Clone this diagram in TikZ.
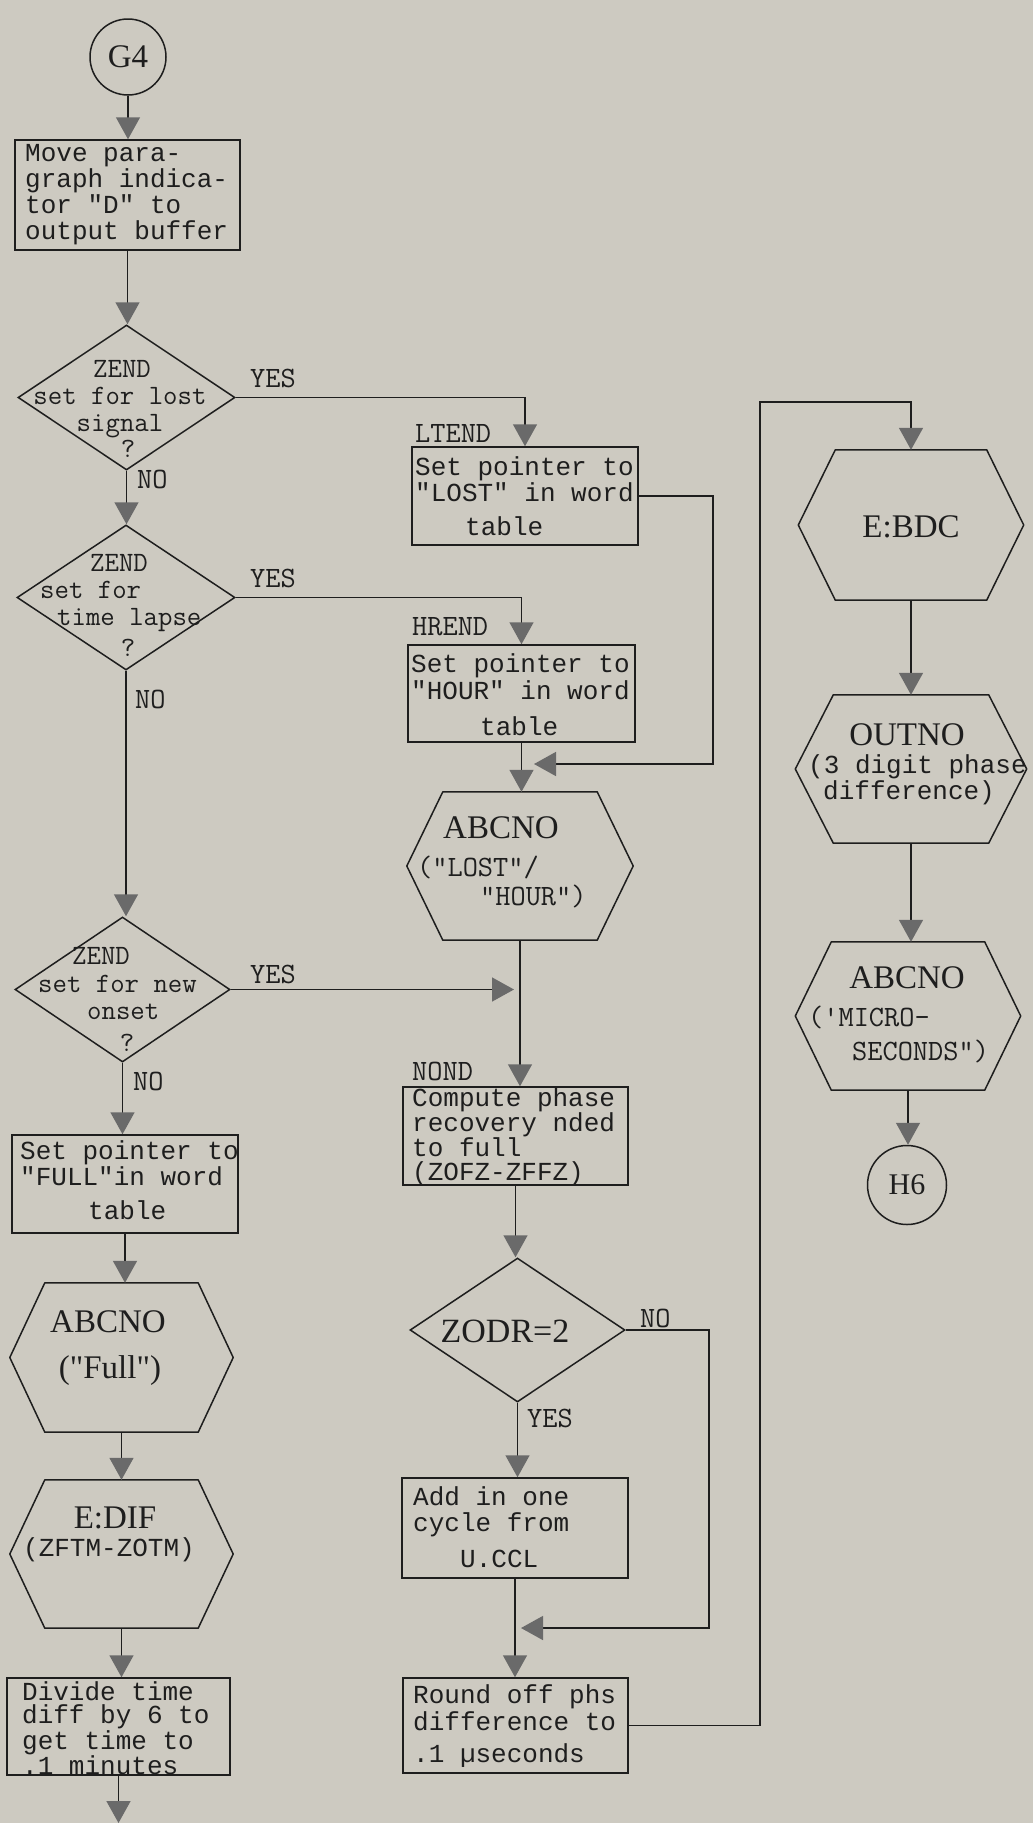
\documentclass[tikz,border=0pt]{standalone}
\usepackage{fontspec}
\usetikzlibrary{shapes.geometric,arrows.meta}
\newfontfamily\lmonofam{Liberation Mono}
\newfontfamily\lseriffam{Liberation Serif}
\definecolor{bgc}{HTML}{CDCAC1}
\definecolor{ink}{HTML}{1E1E1E}
\definecolor{ag}{HTML}{6A6A6A}
\newcommand\fBox{\lmonofam\fontsize{26}{26}\selectfont}
\newcommand\fLab{\ttfamily\fontsize{29.5}{29.5}\selectfont}
\newcommand\fDia{\ttfamily\fontsize{28}{28}\selectfont}
\newcommand\fSer{\lseriffam\fontsize{33}{33}\selectfont}
\newcommand\drawhex[2]{\draw[draw=ink,line width=1.5pt,line join=round] (#1.west) -- ([xshift=#2pt]#1.north west) -- ([xshift=-#2pt]#1.north east) -- (#1.east) -- ([xshift=-#2pt]#1.south east) -- ([xshift=#2pt]#1.south west) -- cycle;}
\begin{document}
\begin{tikzpicture}[x=1pt,y=-1pt,
 arr/.style={draw=ink,line width=1.5pt,-{Triangle[width=24pt,length=22pt,fill=ag,color=ag]}},
 boxn/.style={draw=ink,line width=1.5pt,rectangle,inner sep=0pt},
 dian/.style={draw=ink,line width=1.5pt,diamond,inner sep=0pt},
 hexn/.style={rectangle,inner sep=0pt},
 circn/.style={draw=ink,line width=1.5pt,circle,inner sep=0pt,font=\fSer,text=ink},
 btxt/.style={font=\fBox,text=ink,align=left,inner sep=0pt,anchor=west},
 lab/.style={font=\fLab,text=ink,inner sep=0pt,anchor=base west},
 dtx/.style={font=\fDia,text=ink,inner sep=0pt,anchor=base west},
 dtxc/.style={font=\fDia,text=ink,inner sep=0pt,anchor=base},
 sert/.style={font=\fSer,text=ink,inner sep=0pt,anchor=base},
 sertl/.style={font=\fSer,text=ink,inner sep=0pt,anchor=base west},
 mon/.style={font=\fBox,text=ink,inner sep=0pt,anchor=base west},
 monc/.style={font=\fBox,text=ink,inner sep=0pt,anchor=base}]
\fill[bgc] (0,0) rectangle (1033,1823);
\useasboundingbox (0,0) rectangle (1033,1823);

% ---------- left column ----------
\node[circn,minimum size=76pt] (G4) at (128,57) {G4};
\node[boxn,minimum width=225pt,minimum height=110pt] (b1) at (127.5,195) {};
\node[btxt] (b1t) at (25,195) {Move para-\\graph indica-\\tor "D" to\\output buffer};

\node[dian,minimum width=217pt,minimum height=145pt] (d1) at (126.5,397.5) {};
\node[dtxc] (d1a) at (122,377) {ZEND};
\node[dtxc] (d1b) at (120,404) {set for lost};
\node[dtxc] (d1c) at (120,431) {signal};
\node[dtxc] (d1d) at (128,457) {?};

\node[dian,minimum width=218pt,minimum height=145pt] (d2) at (126,597.5) {};
\node[dtx] (d2a) at (90,571) {ZEND};
\node[dtx] (d2b) at (40,598) {set for};
\node[dtx] (d2c) at (57,625) {time lapse};
\node[dtxc] (d2d) at (128,656) {?};

\node[dian,minimum width=215pt,minimum height=145pt] (d3) at (122.5,989.5) {};
\node[dtx] (d3a) at (72,964) {ZEND};
\node[dtx] (d3b) at (38,992) {set for new};
\node[dtx] (d3c) at (87,1019) {onset};
\node[dtxc] (d3d) at (127,1051) {?};

\node[boxn,minimum width=226pt,minimum height=98pt] (fb) at (125,1184) {};
\node[btxt] (fbt) at (20,1180) {Set pointer to\\"FULL"in word\\[8pt]\hspace*{68pt}table};

\node[hexn,minimum width=223pt,minimum height=149pt] (hF) at (121.5,1357.5) {};
\node[sert] (hFa) at (108,1332) {ABCNO};
\node[sert] (hFb) at (110,1378) {("Full")};

\node[hexn,minimum width=223pt,minimum height=148pt] (hE) at (121.5,1554) {};
\node[sert] (hEa) at (115,1528) {E:DIF};
\node[monc] (hEb) at (109,1556) {(ZFTM-ZOTM)};

\node[boxn,minimum width=223pt,minimum height=97pt] (dv) at (118.5,1726.5) {};
\node[btxt,font=\lmonofam\fontsize{26}{23.5}\selectfont] (dvt) at (22,1728) {Divide time\\diff by 6 to\\get time to\\.1 minutes};
\coordinate (exitL) at (118.5,1823);

% ---------- middle column ----------
\node[boxn,minimum width=226pt,minimum height=98pt] (lt) at (525,496) {};
\node[btxt] (ltt) at (415,496) {Set pointer to\\"LOST" in word\\[8pt]\hspace*{50pt}table};
\node[lab] (ltl) at (415,442) {LTEND};

\node[boxn,minimum width=227pt,minimum height=97pt] (hr) at (521.5,693.5) {};
\node[btxt,font=\lmonofam\fontsize{26}{27}\selectfont] (hrt) at (411,695) {Set pointer to\\"HOUR" in word\\[9pt]\hspace*{69pt}table};
\node[lab] (hrl) at (412,635) {HREND};

\node[hexn,minimum width=226pt,minimum height=148pt] (hA) at (520,866) {};
\node[sertl] (hAa) at (443,838) {ABCNO};
\node[lab] (hAb) at (417,876) {("LOST"/};
\node[lab] (hAc) at (480,905) {"HOUR")};
\coordinate (mA) at (534,764);

\node[boxn,minimum width=225pt,minimum height=98pt] (nd) at (515.5,1136) {};
\node[btxt,font=\lmonofam\fontsize{26}{24}\selectfont] (ndt) at (412,1137) {Compute phase\\recovery nded\\to full\\(ZOFZ-ZFFZ)};
\node[lab] (ndl) at (412,1080) {NOND};
\coordinate (mB) at (514,989.5);

\node[dian,minimum width=215pt,minimum height=144pt] (d4) at (517.5,1330) {};
\node[sert,font=\lseriffam\fontsize{34}{34}\selectfont] (d4a) at (505,1342) {ZODR=2};

\node[boxn,minimum width=226pt,minimum height=100pt] (ad) at (515,1528) {};
\node[btxt] (adt) at (413,1527.5) {Add in one\\cycle from\\[10pt]\hspace*{47pt}U.CCL};
\coordinate (mC) at (521,1628);

\node[boxn,minimum width=225pt,minimum height=95pt] (rd) at (515.5,1725.5) {};
\node[btxt,font=\lmonofam\fontsize{26}{27}\selectfont] (rdt) at (413,1726) {Round off phs\\difference to\\[5pt].1 µseconds};

% ---------- right column ----------
\coordinate (cR) at (760,402);
\node[hexn,minimum width=225pt,minimum height=150pt] (hB) at (911,525) {};
\node[sert] (hBa) at (911,537) {E:BDC};

\node[hexn,minimum width=231pt,minimum height=148pt] (hO) at (911,769) {};
\node[sert] (hOa) at (907,745) {OUTNO};
\node[mon] (hOb) at (808,773) {(3 digit phase};
\node[mon] (hOc) at (823,799) {difference)};

\node[hexn,minimum width=225pt,minimum height=148pt] (hM) at (908,1016) {};
\node[sert] (hMa) at (907,988) {ABCNO};
\node[lab] (hMb) at (808,1026) {('MICRO-};
\node[lab] (hMc) at (852,1060) {SECONDS")};

\node[circn,minimum size=79pt,font=\lseriffam\fontsize{30}{30}\selectfont] (H6) at (907,1185) {H6};

% hexagon outlines
\drawhex{hA}{36}
\drawhex{hF}{35}
\drawhex{hE}{35}
\drawhex{hB}{37}
\drawhex{hO}{38}
\drawhex{hM}{36}

% ---------- branch labels ----------
\node[lab] (y1) at (250,387) {YES};
\node[lab] (y2) at (250,587) {YES};
\node[lab] (y3) at (250,983) {YES};
\node[lab] (n1) at (137,488) {NO};
\node[lab] (n2) at (135,708) {NO};
\node[lab] (n3) at (133,1090) {NO};
\node[lab] (n4) at (640,1327) {NO};
\node[lab] (y4) at (527,1427) {YES};

% ---------- connectors ----------
\draw[arr] (G4.south) -- (G4.south |- b1.north);
\draw[arr] (b1.south) -- (b1.south |- d1.north);
\draw[arr] (d1.south) -- (d1.south |- d2.north);
\draw[arr] (d1.east) -| (lt.north);
\draw[arr] (d2.east) -| (hr.north);
\draw[arr] (d2.south) -- (d2.south |- d3.north);
\draw[arr] (lt.east) -- ++(74,0) |- (mA);
\draw[arr] (hr.south) -- (hr.south |- hA.north);
\draw[arr] (hA.south) -- (hA.south |- nd.north);
\draw[arr] (d3.east) -- (mB);
\draw[arr] (d3.south) -- (d3.south |- fb.north);
\draw[arr] (fb.south) -- (fb.south |- hF.north);
\draw[arr] (hF.south) -- (hF.south |- hE.north);
\draw[arr] (hE.south) -- (hE.south |- dv.north);
\draw[arr] (dv.south) -- (exitL);
\draw[arr] (nd.south) -- (nd.south |- d4.north);
\draw[arr] (d4.south) -- (d4.south |- ad.north);
\draw[arr] (d4.east) -- ++(83,0) |- (mC);
\draw[arr] (ad.south) -- (ad.south |- rd.north);
\draw[arr] (rd.east) -| (cR) -| (hB.north);
\draw[arr] (hB.south) -- (hB.south |- hO.north);
\draw[arr] (hO.south) -- (hO.south |- hM.north);
\draw[arr] (hM.south) -- (hM.south |- H6.north);
\end{tikzpicture}
\end{document}
